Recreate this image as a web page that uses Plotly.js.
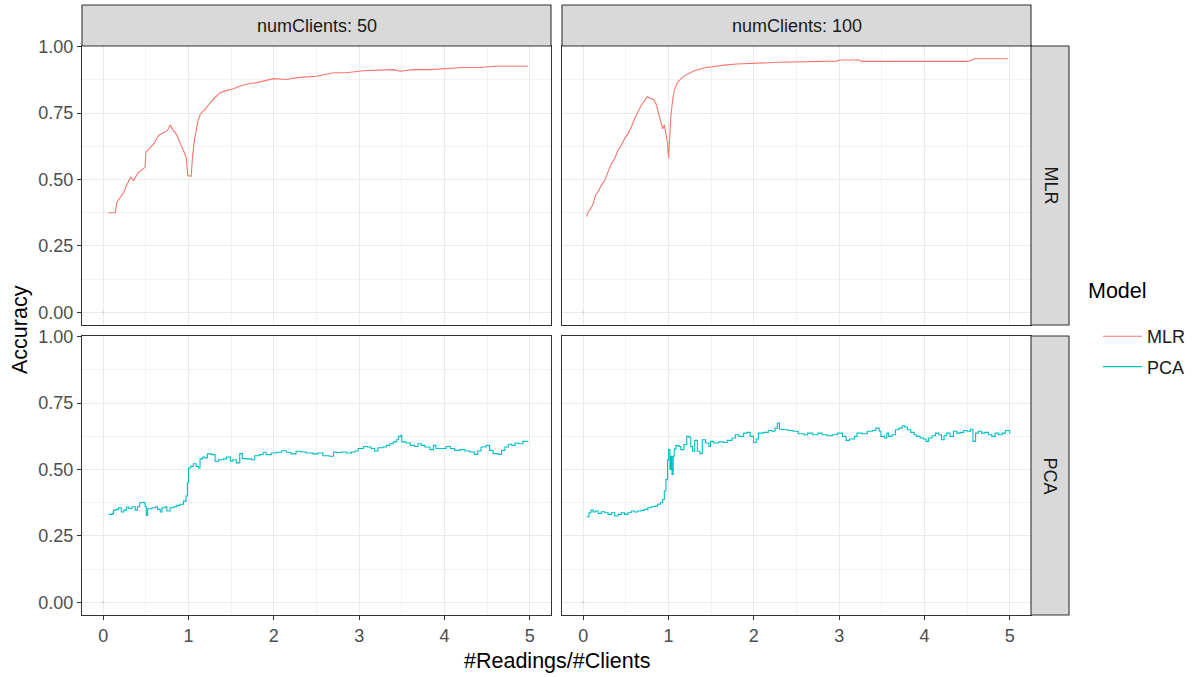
<!DOCTYPE html>
<html>
<head>
<meta charset="utf-8">
<script src="https://cdn.plot.ly/plotly-3.0.1.min.js"></script>
<style>html,body{margin:0;padding:0;background:#fff;}#chart{width:1193px;height:677px;}</style>
</head>
<body>
<div id="chart"></div>
<script>
// ---- data ----
const colLabels = ["numClients: 50", "numClients: 100"];
const rowLabels = ["MLR", "PCA"];
const legendTitle = "Model";
const xTicks = [0, 1, 2, 3, 4, 5];
const yTicks = [0, 0.25, 0.5, 0.75, 1];
const yTickText = ["0.00", "0.25", "0.50", "0.75", "1.00"];

const mlr50X = [0.06,0.14,0.16,0.2,0.24,0.27,0.32,0.355,0.41,0.465,0.49,0.5,0.55,0.59,0.62,0.65,0.71,0.75,0.785,0.816,0.855,0.9,0.934,0.973,0.99,1.03,1.047,1.07,1.11,1.137,1.195,1.254,1.31,1.37,1.43,1.527,1.605,1.68,1.8,1.918,1.996,2.15,2.27,2.5,2.7,2.85,3.05,3.24,3.4,3.48,3.63,3.83,4.02,4.22,4.41,4.61,4.8,4.98];
const mlr50Y = [0.375,0.375,0.415,0.434,0.452,0.477,0.509,0.496,0.527,0.54,0.546,0.603,0.621,0.634,0.652,0.667,0.677,0.684,0.705,0.687,0.671,0.64,0.615,0.584,0.515,0.512,0.59,0.652,0.721,0.746,0.765,0.79,0.809,0.827,0.834,0.842,0.852,0.859,0.865,0.875,0.88,0.877,0.884,0.889,0.902,0.902,0.91,0.912,0.914,0.908,0.914,0.914,0.918,0.922,0.922,0.927,0.927,0.927];

const mlr100X = [0.039,0.058,0.089,0.116,0.143,0.174,0.213,0.252,0.29,0.33,0.368,0.407,0.446,0.484,0.523,0.562,0.6,0.64,0.678,0.717,0.748,0.787,0.826,0.853,0.88,0.91,0.93,0.95,0.969,0.988,1.0,1.01,1.027,1.047,1.066,1.105,1.163,1.22,1.3,1.415,1.53,1.65,1.8,1.957,2.19,2.3,2.97,3.0,3.24,3.26,3.44,4.02,4.51,4.59,4.98];
const mlr100Y = [0.36,0.379,0.391,0.41,0.441,0.454,0.479,0.497,0.529,0.56,0.579,0.61,0.629,0.654,0.672,0.697,0.729,0.754,0.779,0.797,0.812,0.806,0.801,0.785,0.754,0.71,0.691,0.706,0.666,0.635,0.579,0.641,0.741,0.797,0.835,0.866,0.885,0.897,0.91,0.92,0.926,0.931,0.935,0.937,0.941,0.942,0.946,0.95,0.95,0.945,0.945,0.945,0.945,0.955,0.955];

const pca50X = [0.064,0.103,0.12,0.15,0.18,0.21,0.24,0.27,0.3,0.336,0.375,0.4,0.426,0.453,0.48,0.49,0.504,0.52,0.57,0.61,0.636,0.667,0.687,0.726,0.745,0.784,0.83,0.862,0.9,0.94,0.97,0.986,1.0,1.025,1.056,1.088,1.115,1.134,1.165,1.19,1.22,1.27,1.31,1.35,1.41,1.445,1.49,1.52,1.56,1.6,1.63,1.68,1.737,1.776,1.827,1.874,1.91,1.97,2.03,2.09,2.146,2.2,2.26,2.32,2.38,2.457,2.515,2.574,2.65,2.7,2.73,2.79,2.85,2.91,2.95,2.99,3.05,3.1,3.14,3.18,3.22,3.28,3.32,3.36,3.4,3.44,3.46,3.49,3.5,3.55,3.6,3.65,3.69,3.73,3.77,3.83,3.87,3.9,3.96,4.02,4.07,4.12,4.18,4.24,4.3,4.35,4.39,4.43,4.49,4.53,4.57,4.63,4.67,4.71,4.75,4.79,4.83,4.87,4.92,4.98];
const pca50Y = [0.331,0.334,0.347,0.35,0.356,0.34,0.347,0.359,0.353,0.36,0.347,0.36,0.375,0.377,0.375,0.36,0.327,0.352,0.356,0.36,0.35,0.34,0.356,0.36,0.344,0.356,0.36,0.365,0.369,0.381,0.4,0.45,0.506,0.512,0.522,0.512,0.506,0.54,0.547,0.544,0.559,0.556,0.531,0.537,0.54,0.547,0.531,0.537,0.525,0.56,0.541,0.54,0.537,0.552,0.556,0.565,0.556,0.562,0.565,0.571,0.565,0.559,0.569,0.566,0.562,0.559,0.562,0.552,0.55,0.566,0.564,0.566,0.562,0.566,0.57,0.579,0.587,0.585,0.579,0.57,0.582,0.585,0.591,0.597,0.604,0.612,0.625,0.629,0.604,0.6,0.591,0.587,0.597,0.591,0.585,0.575,0.591,0.579,0.579,0.587,0.579,0.572,0.575,0.57,0.566,0.557,0.57,0.585,0.591,0.572,0.56,0.557,0.572,0.585,0.595,0.591,0.6,0.597,0.606,0.607];

const pca100X = [0.039,0.066,0.089,0.116,0.143,0.174,0.213,0.252,0.29,0.33,0.368,0.407,0.446,0.484,0.523,0.562,0.6,0.64,0.678,0.717,0.756,0.795,0.833,0.872,0.903,0.93,0.95,0.969,0.988,1.0,1.016,1.027,1.04,1.054,1.066,1.085,1.124,1.143,1.18,1.213,1.24,1.26,1.28,1.306,1.337,1.368,1.395,1.434,1.473,1.492,1.53,1.59,1.647,1.686,1.744,1.783,1.822,1.88,1.92,1.957,1.996,2.027,2.054,2.112,2.17,2.21,2.248,2.275,2.3,2.345,2.403,2.46,2.52,2.59,2.63,2.69,2.75,2.8,2.86,2.92,2.98,3.04,3.08,3.12,3.18,3.21,3.27,3.33,3.39,3.43,3.47,3.49,3.53,3.56,3.58,3.62,3.66,3.7,3.74,3.77,3.8,3.84,3.88,3.91,3.95,3.99,4.02,4.05,4.09,4.13,4.17,4.2,4.23,4.26,4.3,4.34,4.38,4.42,4.46,4.5,4.54,4.57,4.6,4.63,4.67,4.71,4.75,4.79,4.83,4.87,4.91,4.95,5.0];
const pca100Y = [0.322,0.337,0.347,0.34,0.344,0.335,0.341,0.337,0.331,0.337,0.325,0.331,0.337,0.331,0.337,0.344,0.34,0.344,0.346,0.35,0.356,0.36,0.362,0.369,0.375,0.387,0.419,0.462,0.537,0.575,0.5,0.55,0.481,0.55,0.577,0.59,0.587,0.575,0.594,0.625,0.622,0.587,0.569,0.61,0.569,0.56,0.612,0.6,0.587,0.606,0.6,0.604,0.602,0.61,0.619,0.631,0.625,0.637,0.64,0.625,0.602,0.615,0.637,0.64,0.647,0.644,0.656,0.675,0.652,0.65,0.647,0.644,0.635,0.631,0.637,0.631,0.637,0.631,0.627,0.631,0.637,0.625,0.61,0.615,0.625,0.637,0.635,0.644,0.647,0.656,0.644,0.625,0.619,0.637,0.625,0.631,0.65,0.656,0.665,0.66,0.65,0.64,0.631,0.625,0.619,0.615,0.606,0.619,0.627,0.637,0.631,0.612,0.627,0.637,0.625,0.644,0.637,0.64,0.647,0.644,0.652,0.606,0.637,0.644,0.637,0.64,0.631,0.625,0.637,0.631,0.637,0.647,0.635];

// stray point at the origin visible in every panel
const originX = [0];
const originY = [0];

// ---- styling ----
const W = 1193, H = 677;
const FONT = "Liberation Sans, Arial, Helvetica, sans-serif";
const MLR_COL = "#F8766D", PCA_COL = "#00BFC4";
const GRID = "#EBEBEB", BORDER = "#333333";
const SMALL = 18, LARGE = 21.5;

// panel pixel boxes -> paper fractions
const colPx = [[82, 551], [562, 1031]];
const rowPx = [[46, 325], [336, 615]];
const px = v => v / W, py = v => 1 - v / H;

const traces = [];
function addLine(x, y, col, name, ax, show, shape) {
  traces.push({x: x, y: y, type: "scatter", mode: "lines", name: name, legendgroup: name,
    showlegend: show, line: {color: col, width: 1.1, shape: shape},
    xaxis: ax.x, yaxis: ax.y, hoverinfo: "x+y"});
}
const axes = [{x: "x", y: "y"}, {x: "x2", y: "y2"}, {x: "x3", y: "y3"}, {x: "x4", y: "y4"}];
addLine(mlr50X, mlr50Y, MLR_COL, "MLR", axes[0], true, "linear");
addLine(mlr100X, mlr100Y, MLR_COL, "MLR", axes[1], false, "linear");
addLine(pca50X, pca50Y, PCA_COL, "PCA", axes[2], true, "hv");
addLine(pca100X, pca100Y, PCA_COL, "PCA", axes[3], false, "hv");
axes.forEach(a => traces.push({x: originX, y: originY, type: "scatter", mode: "markers",
  marker: {size: 2, color: "#C8C8C8"}, showlegend: false, xaxis: a.x, yaxis: a.y, hoverinfo: "skip"}));

const layout = {
  width: W, height: H,
  margin: {l: 0, r: 0, t: 0, b: 0},
  paper_bgcolor: "#FFFFFF", plot_bgcolor: "#FFFFFF",
  font: {family: FONT, size: SMALL, color: "#4D4D4D"},
  showlegend: true,
  legend: {x: px(1098), y: py(318), xanchor: "left", yanchor: "top",
    font: {size: SMALL, color: "#1A1A1A"}, tracegroupgap: 4, itemwidth: 39,
    bgcolor: "rgba(0,0,0,0)"},
  shapes: [], annotations: []
};

function xAxis(ci, ri, anchor) {
  const bottom = ri === 1;
  return {domain: [px(colPx[ci][0]), px(colPx[ci][1])], anchor: anchor,
    range: [-0.25, 5.25], tickvals: xTicks, ticktext: xTicks.map(String),
    showticklabels: bottom, ticks: bottom ? "outside" : "", ticklen: 4, tickcolor: BORDER, tickwidth: 1,
    showgrid: true, gridcolor: GRID, gridwidth: 1, zeroline: false,
    minor: {dtick: 0.5, tick0: 0, showgrid: true, gridcolor: GRID, gridwidth: 0.6, ticks: ""},
    showline: true, mirror: true, linecolor: BORDER, linewidth: 1.1,
    tickfont: {size: SMALL, color: "#4D4D4D"}, fixedrange: true};
}
function yAxis(ci, ri, anchor) {
  const left = ci === 0;
  return {domain: [py(rowPx[ri][1]), py(rowPx[ri][0])], anchor: anchor,
    range: [-0.048, 1.003], tickvals: yTicks, ticktext: yTickText,
    showticklabels: left, ticks: left ? "outside" : "", ticklen: 4, tickcolor: BORDER, tickwidth: 1,
    showgrid: true, gridcolor: GRID, gridwidth: 1, zeroline: false,
    minor: {dtick: 0.125, tick0: 0, showgrid: true, gridcolor: GRID, gridwidth: 0.6, ticks: ""},
    showline: true, mirror: true, linecolor: BORDER, linewidth: 1.1,
    tickfont: {size: SMALL, color: "#4D4D4D"}, fixedrange: true};
}
layout.xaxis = xAxis(0, 0, "y");  layout.yaxis = yAxis(0, 0, "x");
layout.xaxis2 = xAxis(1, 0, "y2"); layout.yaxis2 = yAxis(1, 0, "x2");
layout.xaxis3 = xAxis(0, 1, "y3"); layout.yaxis3 = yAxis(0, 1, "x3");
layout.xaxis4 = xAxis(1, 1, "y4"); layout.yaxis4 = yAxis(1, 1, "x4");

// facet strips
colLabels.forEach((lab, i) => {
  layout.shapes.push({type: "rect", xref: "paper", yref: "paper",
    x0: px(colPx[i][0]), x1: px(colPx[i][1]), y0: py(46), y1: py(5),
    fillcolor: "#D9D9D9", line: {color: BORDER, width: 1.1}, layer: "above"});
  layout.annotations.push({text: lab, xref: "paper", yref: "paper",
    x: px((colPx[i][0] + colPx[i][1]) / 2), y: py(26), showarrow: false,
    xanchor: "center", yanchor: "middle", font: {size: SMALL, color: "#1A1A1A"}});
});
rowLabels.forEach((lab, i) => {
  layout.shapes.push({type: "rect", xref: "paper", yref: "paper",
    x0: px(1031), x1: px(1069), y0: py(rowPx[i][1]), y1: py(rowPx[i][0]),
    fillcolor: "#D9D9D9", line: {color: BORDER, width: 1.1}, layer: "above"});
  layout.annotations.push({text: lab, xref: "paper", yref: "paper",
    x: px(1050), y: py((rowPx[i][0] + rowPx[i][1]) / 2), showarrow: false, textangle: 90,
    xanchor: "center", yanchor: "middle", font: {size: SMALL, color: "#1A1A1A"}});
});
// legend title
layout.annotations.push({text: legendTitle, xref: "paper", yref: "paper", x: px(1086), y: py(291),
  showarrow: false, xanchor: "left", yanchor: "middle", font: {size: LARGE, color: "#000000"}});
// shared axis titles
layout.annotations.push({text: "Accuracy", xref: "paper", yref: "paper", x: px(20), y: py(330),
  showarrow: false, textangle: -90, xanchor: "center", yanchor: "middle", font: {size: LARGE, color: "#000000"}});
layout.annotations.push({text: "#Readings/#Clients", xref: "paper", yref: "paper", x: px(557), y: py(661),
  showarrow: false, xanchor: "center", yanchor: "middle", font: {size: LARGE, color: "#000000"}});

Plotly.newPlot("chart", traces, layout, {displayModeBar: false, staticPlot: true});
</script>
</body>
</html>
